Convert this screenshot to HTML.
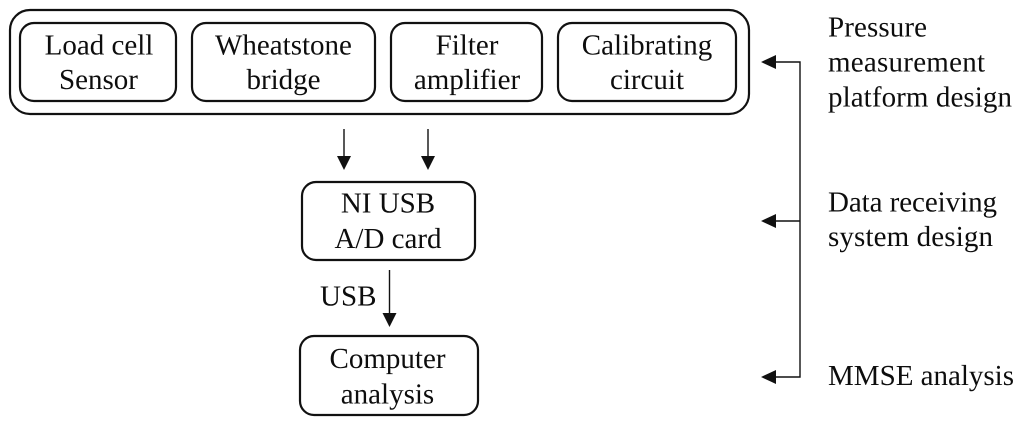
<!DOCTYPE html>
<html>
<head>
<meta charset="utf-8">
<style>
html,body{margin:0;padding:0;background:#fff;width:1024px;height:425px;overflow:hidden}
svg{display:block}
text{font-family:"Liberation Serif",serif;font-size:29px;fill:#0d0d0d;text-rendering:geometricPrecision}
.c{text-anchor:middle}
rect{fill:none;stroke:#111;stroke-width:2.2}
line,polyline{stroke:#111;stroke-width:1.4;fill:none}
polygon{fill:#111}
</style>
</head>
<body>
<svg width="1024" height="425" viewBox="0 0 1024 425" xmlns="http://www.w3.org/2000/svg">
<rect x="10" y="10" width="739" height="104" rx="20"/>
<rect x="20" y="23" width="156" height="78" rx="14"/>
<rect x="192" y="23" width="183" height="78" rx="14"/>
<rect x="391" y="23" width="151" height="78" rx="14"/>
<rect x="558" y="23" width="178" height="78" rx="14"/>
<rect x="302" y="182" width="173" height="78" rx="14"/>
<rect x="300" y="336" width="178" height="79" rx="14"/>

<text class="c" x="99" y="54.5">Load cell</text>
<text class="c" x="98.5" y="89">Sensor</text>
<text class="c" x="283.5" y="54.5">Wheatstone</text>
<text class="c" x="283.5" y="89">bridge</text>
<text class="c" x="467" y="54.5">Filter</text>
<text class="c" x="467" y="89">amplifier</text>
<text class="c" x="647" y="54.5">Calibrating</text>
<text class="c" x="647" y="89">circuit</text>
<text class="c" x="388" y="212.5">NI USB</text>
<text class="c" x="388" y="248">A/D card</text>
<text x="320" y="305.5">USB</text>
<text class="c" x="387.5" y="368">Computer</text>
<text class="c" x="387.5" y="403.5">analysis</text>

<text x="828" y="36.5" textLength="99">Pressure</text>
<text x="828" y="71.5" textLength="157">measurement</text>
<text x="828" y="106.5" textLength="184">platform design</text>
<text x="828" y="211.5" textLength="169">Data receiving</text>
<text x="828" y="246" textLength="165">system design</text>
<text x="828" y="385" textLength="186">MMSE analysis</text>

<line x1="344" y1="129" x2="344" y2="158"/>
<polygon points="337,156 351,156 344,170"/>
<line x1="428" y1="129" x2="428" y2="158"/>
<polygon points="421,156 435,156 428,170"/>
<line x1="389.5" y1="270" x2="389.5" y2="315"/>
<polygon points="382.5,313 396.5,313 389.5,327"/>

<polyline points="775,62 800,62 800,377 775,377"/>
<line x1="775" y1="221" x2="800" y2="221"/>
<polygon points="761,62 776,55 776,69"/>
<polygon points="761,221 776,214 776,228"/>
<polygon points="761,377 776,370 776,384"/>
</svg>
</body>
</html>
